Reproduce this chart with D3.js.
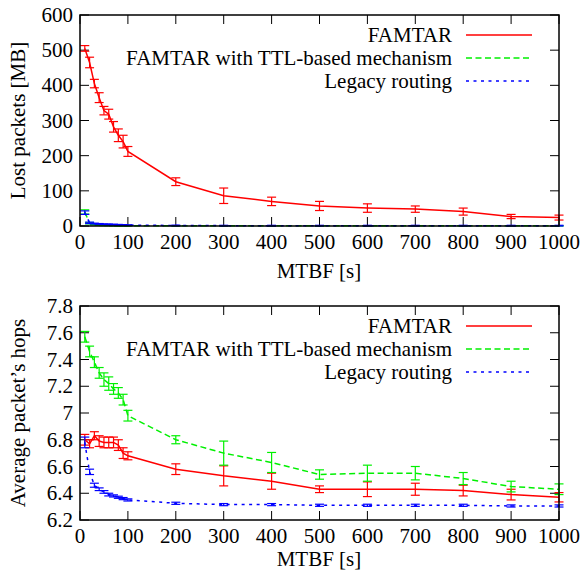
<!DOCTYPE html>
<html>
<head>
<meta charset="utf-8">
<script src="https://cdn.jsdelivr.net/npm/d3@7"></script>
<style>
  body { margin: 0; background: #fff; }
  text { font-family: "Liberation Serif", "Times New Roman", serif; }
</style>
</head>
<body>
<div id="root"></div>
<script>
// MTBF values (x axis)
var mtbf = [10, 20, 30, 40, 50, 60, 70, 80, 90, 100, 200, 300, 400, 500, 600, 700, 800, 900, 1000];
var xTicks = [0, 100, 200, 300, 400, 500, 600, 700, 800, 900, 1000];

// top panel: lost packets [MB]
var lostFamtar    = [505, 465, 405, 365, 328, 318, 282, 258, 240, 212, 126, 86, 70, 57, 51, 48, 41, 27, 24];
var lostFamtarErr = [8, 15, 12, 14, 12, 14, 15, 18, 18, 14, 11, 22, 12, 13, 12, 9, 10, 6, 7];
var lostTtl       = [40, 8, 4, 3, 2, 2, 1.5, 1, 1, 1, 0.5, 0.5, 0.5, 0.5, 0.5, 0.5, 0.5, 0.5, 0.5];
var lostTtlErr    = [6, 2, 1, 1, 1, 1, 1, 1, 1, 1, 0.5, 0.5, 0.5, 0.5, 0.5, 0.5, 0.5, 0.5, 0.5];
var lostLegacy    = [38, 9, 7, 6, 5, 4.5, 4, 3.5, 3, 2.5, 1.5, 1, 1, 1, 1, 1, 1, 1, 1];
var lostLegacyErr = [5, 2, 1, 1, 1, 1, 1, 1, 1, 1, 1, 1, 1, 1, 1, 1, 1, 1, 1];
var lostTicks = [0, 100, 200, 300, 400, 500, 600];

// bottom panel: average packet's hops
var hopsFamtar    = [6.80, 6.77, 6.83, 6.79, 6.78, 6.78, 6.78, 6.76, 6.70, 6.68, 6.58, 6.53, 6.49, 6.43, 6.43, 6.43, 6.42, 6.39, 6.37];
var hopsFamtarErr = [0.04, 0.03, 0.03, 0.04, 0.04, 0.04, 0.04, 0.04, 0.04, 0.03, 0.04, 0.075, 0.06, 0.025, 0.055, 0.045, 0.04, 0.04, 0.035];
var hopsTtl       = [7.57, 7.46, 7.38, 7.30, 7.25, 7.22, 7.18, 7.15, 7.10, 6.98, 6.80, 6.70, 6.63, 6.54, 6.55, 6.55, 6.51, 6.45, 6.43];
var hopsTtlErr    = [0.04, 0.04, 0.04, 0.04, 0.05, 0.05, 0.04, 0.04, 0.04, 0.04, 0.03, 0.09, 0.075, 0.035, 0.06, 0.05, 0.045, 0.04, 0.04];
var hopsLegacy    = [6.78, 6.56, 6.46, 6.43, 6.41, 6.39, 6.38, 6.37, 6.36, 6.35, 6.325, 6.315, 6.315, 6.31, 6.31, 6.31, 6.31, 6.305, 6.305];
var hopsLegacyErr = [0.04, 0.02, 0.015, 0.01, 0.01, 0.01, 0.008, 0.008, 0.008, 0.008, 0.008, 0.008, 0.008, 0.008, 0.008, 0.008, 0.008, 0.008, 0.008];
var hopsTicks = [6.2, 6.4, 6.6, 6.8, 7, 7.2, 7.4, 7.6, 7.8];

var seriesNames = ['FAMTAR', 'FAMTAR with TTL-based mechanism', 'Legacy routing'];
var colors = ['#ff0000', '#00f000', '#0000ff'];
var dashes = [null, '6,3.5', '3,4.5'];

var width = 583, height = 575;
var fs = 21;
var svg = d3.select('#root').append('svg')
  .attr('width', width)
  .attr('height', height);

function panel(cfg) {
  var x = d3.scaleLinear().domain([0, 1000]).range([80, 559]);
  var y = d3.scaleLinear().domain(cfg.domain).range([cfg.bottom, cfg.top]);
  var g = svg.append('g');
  var tl = 9;

  // ticks (inside, mirrored)
  xTicks.forEach(function(t) {
    g.append('line').attr('x1', x(t)).attr('x2', x(t))
      .attr('y1', cfg.bottom).attr('y2', cfg.bottom - tl).attr('stroke', '#000');
    g.append('line').attr('x1', x(t)).attr('x2', x(t))
      .attr('y1', cfg.top).attr('y2', cfg.top + tl).attr('stroke', '#000');
    g.append('text').attr('x', x(t)).attr('y', cfg.bottom + 23)
      .attr('text-anchor', 'middle').attr('font-size', fs).text(t);
  });
  cfg.ticks.forEach(function(t) {
    g.append('line').attr('x1', 80).attr('x2', 80 + tl)
      .attr('y1', y(t)).attr('y2', y(t)).attr('stroke', '#000');
    g.append('line').attr('x1', 559).attr('x2', 559 - tl)
      .attr('y1', y(t)).attr('y2', y(t)).attr('stroke', '#000');
    g.append('text').attr('x', 73).attr('y', y(t) + 7)
      .attr('text-anchor', 'end').attr('font-size', fs).text(t);
  });

  // series
  cfg.series.forEach(function(s, i) {
    var pts = mtbf.map(function(d, j) { return { x: d, y: s.v[j], e: s.e[j] }; });
    var eb = g.append('g').attr('stroke', colors[i]).attr('stroke-width', 1.2);
    pts.forEach(function(p) {
      var y1 = y(p.y - p.e), y2 = y(p.y + p.e), cx = x(p.x);
      eb.append('line').attr('x1', cx).attr('x2', cx).attr('y1', y1).attr('y2', y2);
      eb.append('line').attr('x1', cx - 4.5).attr('x2', cx + 4.5).attr('y1', y1).attr('y2', y1);
      eb.append('line').attr('x1', cx - 4.5).attr('x2', cx + 4.5).attr('y1', y2).attr('y2', y2);
    });
    g.append('path').datum(pts)
      .attr('fill', 'none')
      .attr('stroke', colors[i])
      .attr('stroke-width', 1.5)
      .attr('stroke-dasharray', dashes[i])
      .attr('d', d3.line().x(function(d) { return x(d.x); }).y(function(d) { return y(d.y); }));
  });

  // frame
  g.append('rect').attr('x', 80).attr('y', cfg.top)
    .attr('width', 479).attr('height', cfg.bottom - cfg.top)
    .attr('fill', 'none').attr('stroke', '#000').attr('stroke-width', 1.5);

  // legend
  seriesNames.forEach(function(n, i) {
    var ly = cfg.top + 20 + i * 23;
    g.append('text').attr('x', 452).attr('y', ly + 7)
      .attr('text-anchor', 'end').attr('font-size', fs).text(n);
    g.append('line').attr('x1', 466).attr('x2', 532).attr('y1', ly).attr('y2', ly)
      .attr('stroke', colors[i]).attr('stroke-width', 1.5)
      .attr('stroke-dasharray', dashes[i]);
  });

  // axis titles
  g.append('text').attr('x', 319).attr('y', cfg.bottom + cfg.titleGap)
    .attr('text-anchor', 'middle').attr('font-size', fs).text('MTBF [s]');
  g.append('text')
    .attr('transform', 'translate(25,' + ((cfg.top + cfg.bottom) / 2) + ') rotate(-90)')
    .attr('text-anchor', 'middle').attr('font-size', fs).text(cfg.title);
}

panel({
  top: 15, bottom: 226, domain: [0, 600], ticks: lostTicks, titleGap: 52,
  title: 'Lost packets [MB]',
  series: [{ v: lostFamtar, e: lostFamtarErr }, { v: lostTtl, e: lostTtlErr }, { v: lostLegacy, e: lostLegacyErr }]
});

panel({
  top: 306, bottom: 520, domain: [6.2, 7.8], ticks: hopsTicks, titleGap: 46,
  title: 'Average packet\u2019s hops',
  series: [{ v: hopsFamtar, e: hopsFamtarErr }, { v: hopsTtl, e: hopsTtlErr }, { v: hopsLegacy, e: hopsLegacyErr }]
});
</script>
</body>
</html>
